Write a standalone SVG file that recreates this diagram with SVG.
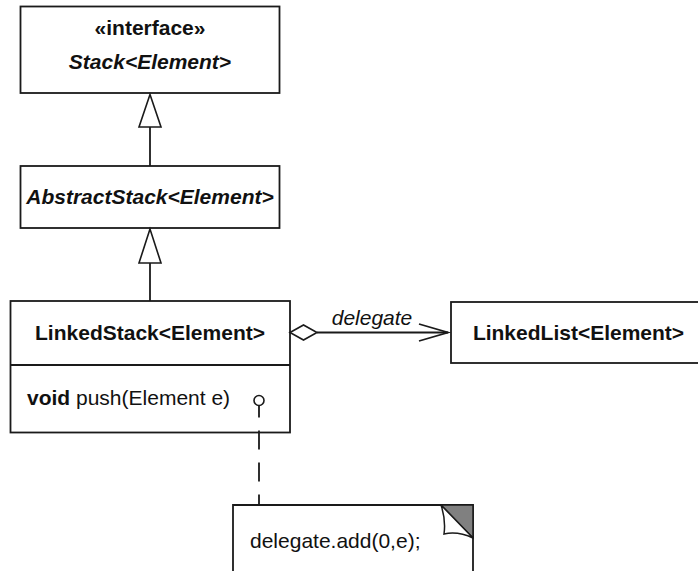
<svg xmlns="http://www.w3.org/2000/svg" width="698" height="571" viewBox="0 0 698 571">
<style>
.box{fill:#fff;stroke:#1a1a1a;stroke-width:1.8}
.ln{fill:none;stroke:#1a1a1a;stroke-width:1.8}
.hd{fill:#fff;stroke:#1a1a1a;stroke-width:1.6}
text{font-family:"Liberation Sans",Arial,sans-serif;font-size:21px;fill:#111}
.b{font-weight:bold}
.i{font-style:italic}
.c{text-anchor:middle}
</style>
<rect width="698" height="571" fill="#fff"/>
<g id="stack">
  <rect class="box" x="20.5" y="6.5" width="259" height="86.5"/>
  <text class="b c" x="150" y="35">«interface»</text>
  <text class="b i c" x="150" y="68.5">Stack&lt;Element&gt;</text>
</g>
<g id="abstractstack">
  <rect class="box" x="20.5" y="166" width="259" height="62"/>
  <text class="b i c" x="150" y="204">AbstractStack&lt;Element&gt;</text>
</g>
<g id="linkedstack">
  <rect class="box" x="10.5" y="301" width="279.5" height="131.5"/>
  <line class="ln" x1="10.5" y1="365" x2="290" y2="365"/>
  <text class="b c" x="150" y="340">LinkedStack&lt;Element&gt;</text>
  <text x="27" y="405"><tspan class="b">void</tspan> push(Element e)</text>
</g>
<g id="linkedlist">
  <rect class="box" x="451" y="302" width="260" height="61"/>
  <text class="b c" x="578.5" y="340">LinkedList&lt;Element&gt;</text>
</g>
<g id="note">
  <polyline class="ln" points="233,580 233,505 473,505 473,580" style="fill:#fff"/>
  <polygon points="441,505 473,505 473,538" fill="#808080" stroke="#1a1a1a" stroke-width="1.5"/>
  <path d="M441,505 Q446,520 444,534 Q458,531 473,538 Z" fill="#fff" stroke="#1a1a1a" stroke-width="1.5"/>
  <text x="250" y="548">delegate.add(0,e);</text>
</g>
<g id="connectors">
  <line class="ln" x1="150" y1="127" x2="150" y2="166"/>
  <polygon class="hd" points="150,94.5 139,127 161,127"/>
  <line class="ln" x1="150" y1="263" x2="150" y2="301"/>
  <polygon class="hd" points="150,229 139,263 161,263"/>
  <line class="ln" x1="317" y1="332.5" x2="448" y2="332.5"/>
  <polygon class="hd" points="290,332.5 303.5,325 317,332.5 303.5,340"/>
  <polyline class="ln" points="419,324 448,332.5 419,341"/>
  <text class="i c" x="372" y="325">delegate</text>
  <line class="ln" x1="259" y1="405.5" x2="259" y2="505" stroke-dasharray="19 13" stroke-dashoffset="7"/>
  <circle class="hd" cx="259" cy="400.5" r="5"/>
</g>
</svg>
